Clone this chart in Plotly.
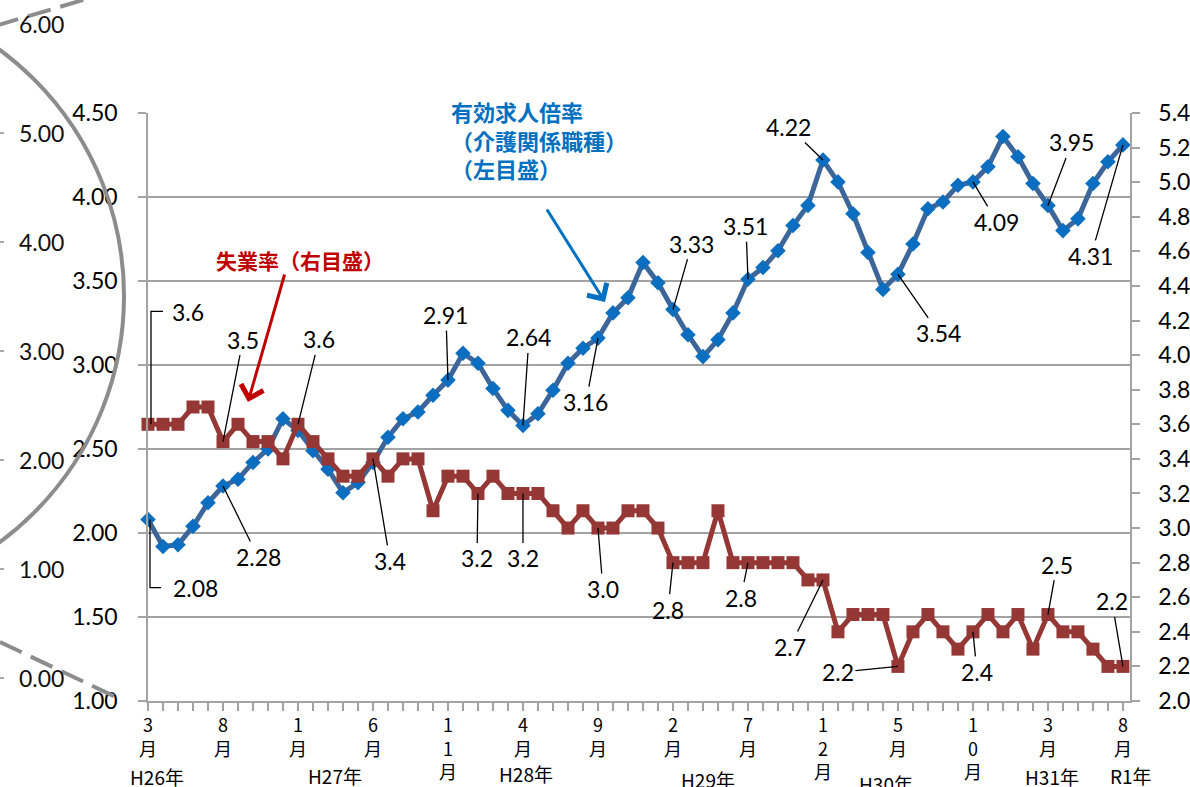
import plotly.graph_objects as go

# 月 (H26年3月 〜 R1年8月)
months = [f"{y}-{m:02d}" for y in range(2014, 2020) for m in range(1, 13)][2:68]

# 有効求人倍率（介護関係職種）左目盛
job_ratio = [2.08, 1.92, 1.93, 2.04, 2.18, 2.28, 2.32, 2.42, 2.50, 2.68,
             2.61, 2.49, 2.38, 2.24, 2.30, 2.42, 2.57, 2.68, 2.72, 2.82,
             2.91, 3.07, 3.01, 2.86, 2.73, 2.64, 2.71, 2.85, 3.01, 3.10,
             3.16, 3.31, 3.40, 3.61, 3.49, 3.33, 3.18, 3.05, 3.15, 3.31,
             3.51, 3.58, 3.68, 3.83, 3.95, 4.22, 4.09, 3.90, 3.67, 3.45,
             3.54, 3.72, 3.93, 3.97, 4.07, 4.09, 4.18, 4.36, 4.24, 4.08,
             3.95, 3.80, 3.87, 4.08, 4.21, 4.31]

# 失業率 右目盛
unemp = [3.6, 3.6, 3.6, 3.7, 3.7, 3.5, 3.6, 3.5, 3.5, 3.4,
         3.6, 3.5, 3.4, 3.3, 3.3, 3.4, 3.3, 3.4, 3.4, 3.1,
         3.3, 3.3, 3.2, 3.3, 3.2, 3.2, 3.2, 3.1, 3.0, 3.1,
         3.0, 3.0, 3.1, 3.1, 3.0, 2.8, 2.8, 2.8, 3.1, 2.8,
         2.8, 2.8, 2.8, 2.8, 2.7, 2.7, 2.4, 2.5, 2.5, 2.5,
         2.2, 2.4, 2.5, 2.4, 2.3, 2.4, 2.5, 2.4, 2.5, 2.3,
         2.5, 2.4, 2.4, 2.3, 2.2, 2.2]

tick_text = ["3<br>月", "8<br>月", "1<br>月", "6<br>月", "1<br>1<br>月", "4<br>月", "9<br>月",
             "2<br>月", "7<br>月", "1<br>2<br>月", "5<br>月", "1<br>0<br>月", "3<br>月", "8<br>月"]
year_text = ["H26年", "H27年", "H28年", "H29年", "H30年", "H31年", "R1年"]

# 別グラフの目盛（左端に重なっている）
bg_ticks = ["6.00", "5.00", "4.00", "3.00", "2.00", "1.00", "0.00"]

BLUE_LINE = "#3C6699"
BLUE_MK = "#0B6EC0"
RED = "#953735"
GRID = "#A3A3A3"
NUM_FONT = "Lato"
JP_FONT = "Noto Sans CJK JP"

W, H = 1190, 787
BOX_L, BOX_R, BOX_T, BOX_B = 148, 1130, 113, 701
PW, PH = BOX_R - BOX_L, BOX_B - BOX_T


def px(x):
    return (x - BOX_L) / PW


def py(y):
    return (BOX_B - y) / PH


xs = list(range(len(months)))

fig = go.Figure()
fig.add_trace(go.Scatter(
    x=xs, y=job_ratio, mode="lines+markers", yaxis="y",
    line=dict(color=BLUE_LINE, width=5),
    marker=dict(symbol="diamond", size=12, color=BLUE_MK),
    cliponaxis=False, showlegend=False, hoverinfo="skip",
))
fig.add_trace(go.Scatter(
    x=xs, y=unemp, mode="lines+markers", yaxis="y2",
    line=dict(color=RED, width=5),
    marker=dict(symbol="square", size=13, color=RED),
    cliponaxis=False, showlegend=False, hoverinfo="skip",
))

ann = []
shapes = []

# データラベル（引き出し線つき）: (index, dx, dy)
blue_lab = [(5, 35, 71), (20, -2, -65), (25, 6, -88), (30, -12, 64), (35, 19, -66),
            (40, -2, -53), (45, -34, -33), (50, 41, 59), (55, 24, 40), (60, 24, -63),
            (65, -32, 111)]
red_lab = [(5, 20, -102), (10, 21, -85), (15, 17, 102), (22, -1, 65), (25, 0, 65),
           (30, 5, 61), (35, -5, 47), (40, -7, 35), (45, -33, 67), (50, -60, 6),
           (55, 4, 40), (60, 9, -50), (65, -11, -65)]

lab_font = dict(family=NUM_FONT, size=23, color="black")
for i, dx, dy in blue_lab:
    ann.append(dict(x=i, y=job_ratio[i], xref="x", yref="y", text=f"{job_ratio[i]:.2f}",
                    showarrow=True, ax=dx, ay=dy, arrowhead=0, arrowwidth=1.3,
                    arrowcolor="black", standoff=0, font=lab_font))
for i, dx, dy in red_lab:
    ann.append(dict(x=i, y=unemp[i], xref="x", yref="y2", text=f"{unemp[i]:.1f}",
                    showarrow=True, ax=dx, ay=dy, arrowhead=0, arrowwidth=1.3,
                    arrowcolor="black", standoff=0, font=lab_font))

# 先頭ラベル（L字の引き出し線）
ann.append(dict(x=0, y=job_ratio[0], xref="x", yref="y", text=f"{job_ratio[0]:.2f}",
                showarrow=False, xshift=47, yshift=-68, font=lab_font))
shapes.append(dict(type="path", xref="x", yref="y", xsizemode="pixel", ysizemode="pixel",
                   xanchor=0, yanchor=job_ratio[0], path="M 2,0 L 2,-68 L 13,-68",
                   line=dict(color="black", width=1.3)))
ann.append(dict(x=0, y=unemp[0], xref="x", yref="y2", text=f"{unemp[0]:.1f}",
                showarrow=False, xshift=40, yshift=112, font=lab_font))
shapes.append(dict(type="path", xref="x", yref="y2", xsizemode="pixel", ysizemode="pixel",
                   xanchor=0, yanchor=unemp[0], path="M 3,0 L 3,113 L 15,113",
                   line=dict(color="black", width=1.3)))

# 系列名と矢印
ann.append(dict(x=px(449), y=py(93), xref="paper", yref="paper", xanchor="left", yanchor="top",
                align="left", showarrow=False,
                text="<b>有効求人倍率<br>（介護関係職種）<br>（左目盛）</b>",
                font=dict(family=JP_FONT, size=22, color="#0070C0")))
ann.append(dict(x=px(605), y=py(302), xref="paper", yref="paper", text="", showarrow=True,
                ax=-59, ay=-94, arrowhead=4, arrowsize=1.5, arrowwidth=3, arrowcolor="#0070C0"))
ann.append(dict(x=px(300), y=py(260), xref="paper", yref="paper", xanchor="center",
                yanchor="middle", showarrow=False,
                text="<b>失業率（右目盛）</b>",
                font=dict(family=JP_FONT, size=21, color="#C00000")))
ann.append(dict(x=px(248), y=py(402), xref="paper", yref="paper", text="", showarrow=True,
                ax=37, ay=-129, arrowhead=4, arrowsize=1.5, arrowwidth=3, arrowcolor="#C00000"))

# 年ラベル（ピクセル位置）
year_pos = [(157, 776), (335, 775), (526, 773), (708, 779), (886, 783), (1052, 776), (1131, 775)]
for t, (xp, yp) in zip(year_text, year_pos):
    ann.append(dict(x=px(xp), y=py(yp), xref="paper", yref="paper", text=t, showarrow=False,
                    xanchor="center", yanchor="middle",
                    font=dict(family=JP_FONT, size=19, color="black")))

# 左端に重なった別グラフの名残（円・破線・目盛）
shapes.append(dict(type="circle", xref="paper", yref="paper",
                   x0=px(-488), x1=px(124), y0=py(602), y1=py(-10),
                   line=dict(color="#8C8C8C", width=4)))
shapes.append(dict(type="line", xref="paper", yref="paper",
                   x0=px(-5), y0=py(26), x1=px(100), y1=py(-5),
                   line=dict(color="#8C8C8C", width=4, dash="24px,10px")))
shapes.append(dict(type="line", xref="paper", yref="paper",
                   x0=px(0), y0=py(642), x1=px(122), y1=py(700),
                   line=dict(color="#8C8C8C", width=4, dash="24px,10px")))
for k, t in enumerate(bg_ticks):
    yy = 24 + k * 109
    ann.append(dict(x=px(66), y=py(yy), xref="paper", yref="paper", xanchor="right",
                    yanchor="middle", text=t, showarrow=False,
                    font=dict(family=NUM_FONT, size=23, color="#111")))
    shapes.append(dict(type="line", xref="paper", yref="paper", x0=px(0), x1=px(4),
                       y0=py(yy), y1=py(yy), line=dict(color="#8C8C8C", width=1.5)))

fig.update_layout(
    width=W, height=H,
    margin=dict(l=BOX_L, r=W - BOX_R, t=BOX_T, b=H - BOX_B, autoexpand=False),
    paper_bgcolor="white", plot_bgcolor="white",
    showlegend=False,
    xaxis=dict(
        range=[0, 65.47], tickmode="array", tickvals=xs[::5], ticktext=tick_text,
        tickangle=0, ticks="outside", ticklen=8, tickwidth=1.5, tickcolor=GRID,
        showline=True, linecolor=GRID, linewidth=1.5, showgrid=False, zeroline=False,
        automargin=False,
        tickfont=dict(family=JP_FONT, size=18, color="black"),
        minor=dict(dtick=1, tick0=0, ticks="outside", ticklen=8, tickwidth=1.5,
                   tickcolor=GRID, showgrid=False),
    ),
    yaxis=dict(
        range=[1, 4.5], dtick=0.5, tick0=1, tickformat=".2f",
        ticks="outside", ticklen=8, tickwidth=1.5, tickcolor=GRID,
        showline=True, linecolor=GRID, linewidth=1.5, automargin=False,
        showgrid=True, gridcolor=GRID, gridwidth=1.5, zeroline=False,
        tickfont=dict(family=NUM_FONT, size=23, color="black"), ticklabelstandoff=16,
    ),
    yaxis2=dict(
        range=[2.0, 5.4], dtick=0.2, tick0=2.0, tickformat=".1f", overlaying="y", side="right",
        ticks="outside", ticklen=8, tickwidth=1.5, tickcolor=GRID,
        showline=True, linecolor=GRID, linewidth=1.5, showgrid=False, zeroline=False,
        automargin=False,
        tickfont=dict(family=NUM_FONT, size=23, color="black"), ticklabelstandoff=14,
    ),
    annotations=ann,
    shapes=shapes,
)

# ページ既定の余白をなくし、図をウィンドウ全体に合わせる
fig.write_html("out.html", config={"displayModeBar": False},
               post_script="document.body.style.margin='0';")
